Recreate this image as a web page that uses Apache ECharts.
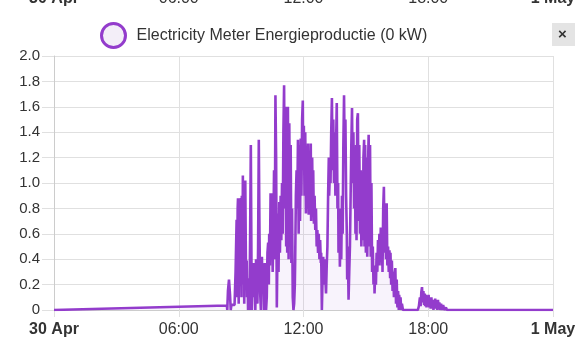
<!DOCTYPE html>
<html>
<head>
<meta charset="utf-8">
<script src="https://cdn.jsdelivr.net/npm/echarts@6/dist/echarts.min.js"></script>
<style>
html,body{margin:0;padding:0;background:#fff;}
#c{width:585px;height:361px;}
</style>
</head>
<body>
<div id="c"></div>
<script>
// Tick labels (every 6 hours, in minutes from 30 Apr 00:00)
const xTickLabels = ['30 Apr', '06:00', '12:00', '18:00', '1 May'];
const xTickBold = [true, false, false, false, true];
const seriesName = 'Electricity Meter Energieproductie (0 kW)';

// Sample times (minutes since 30 Apr 00:00)
const minutes = [
  0,499,500,502,505,508,510,512,517,521,
  524,527,528,530,531,533,534,536,537,539,
  541,542,544,545,546,548,549,551,552,554,
  556,557,559,560,562,564,566,568,570,571,
  573,575,577,579,581,583,585,587,589,591,
  593,595,597,598,600,602,604,606,608,610,
  612,614,616,618,620,621,623,625,627,629,
  631,633,635,637,639,641,643,645,646,648,
  650,652,654,656,658,660,662,664,666,668,
  670,672,673,675,677,679,681,683,685,687,
  689,691,693,695,696,698,700,702,704,706,
  708,710,712,714,716,718,719,721,723,725,
  727,729,731,733,735,737,739,741,742,745,
  747,748,750,752,754,756,758,760,762,764,
  766,768,770,771,773,775,777,779,781,783,
  785,787,789,791,793,794,797,798,800,802,
  804,806,808,810,812,814,816,818,820,821,
  823,825,827,829,831,833,835,837,839,841,
  843,845,846,848,850,852,854,856,858,860,
  862,864,866,868,870,872,873,875,877,879,
  881,883,885,887,889,891,893,895,896,898,
  900,902,904,906,908,910,912,914,916,918,
  920,922,924,925,927,929,931,933,935,937,
  939,941,943,945,947,948,950,952,954,956,
  958,960,962,964,966,968,970,971,973,975,
  977,979,981,983,985,987,989,991,993,995,
  996,999,1000,1002,1004,1007,1050,1053,1056,1058,
  1060,1062,1064,1066,1068,1070,1071,1073,1075,1077,
  1079,1081,1083,1085,1087,1089,1091,1093,1095,1097,
  1098,1100,1102,1104,1106,1108,1110,1112,1114,1117,
  1120,1123,1126,1131,1134,1440
];
// Power (kW)
const kw = [
  0,0.035,0,0.15,0.24,0.12,0,0.04,0.05,0.04,
  0.3,0.71,0.1,0.8,0.88,0.05,0.7,0.2,0.82,0.88,
  0.1,0.9,0.3,1.06,0.2,0.97,0.05,0.85,1.02,0.3,
  0.39,0.1,0.25,0,0.15,0,0.6,1.3,0.3,0,
  0.34,0.1,0.37,0.24,0,0.4,0.26,0.05,0.5,1.34,
  0.6,0.13,0,0.2,0.42,0.13,0.31,0,0.37,0.29,
  0,0.1,0.45,0.53,0.2,0.6,0.35,0.92,0.5,0.92,
  0.3,0.6,1.1,0.4,1.69,1.2,0.02,0.5,0.76,0.3,
  0.85,0.45,0.9,0.55,1.0,0.6,1.4,1.77,0.8,1.6,
  0.5,1.5,0.45,1.6,0.4,1.47,0.6,1.3,0.37,0.8,
  0.1,0,0.05,0.2,0.39,0.9,1.1,0.8,1.34,0.6,
  1.3,0.7,1.35,0.9,1.5,1.65,1.2,1.45,0.9,1.4,
  0.76,1.2,0.8,1.31,0.75,1.25,0.8,1.31,0.7,1.2,
  0.75,1.1,0.68,0.9,0.63,0.8,0.5,0.63,0.45,0.6,
  0.4,0.55,0.37,0.45,0,0.25,0.42,0.2,0.4,0.25,
  0.13,0.35,0.5,0.9,1.2,0.9,1.15,1.0,1.4,1.67,
  1.1,1.5,1.0,1.4,0.9,1.3,1.63,0.8,1.0,0.45,
  0.8,0.34,0.6,0.4,0.9,0.6,1.3,1.69,1.2,1.5,
  0.9,0.6,0.24,0.5,0.08,0.3,0.5,0.9,1.3,1.59,
  1.0,1.4,0.8,1.2,0.6,1.3,0.55,1.5,1.55,0.7,
  1.3,0.6,1.1,0.5,0.9,0.55,1.2,1.34,0.5,1.3,
  0.45,1.2,0.42,1.1,1.38,0.5,1.3,0.42,1.0,0.3,
  0.5,0.2,0.35,0.13,0.3,0.2,0.45,0.3,0.55,0.35,
  0.6,0.4,0.65,0.35,0.6,0.3,0.8,0.97,0.45,0.8,
  0.4,0.84,0.35,0.5,0.3,0.47,0.25,0.45,0.2,0.39,
  0.15,0.3,0.1,0.28,0.33,0.05,0.24,0.02,0.15,0,
  0.12,0.03,0.1,0,0.05,0,0,0.03,0.1,0.03,
  0.14,0.18,0.06,0.15,0.04,0.13,0.03,0.12,0.02,0.1,
  0.03,0.12,0.02,0.09,0.01,0.1,0.03,0.08,0,0.07,
  0.02,0.09,0.01,0.06,0,0.08,0.02,0.06,0,0.05,
  0,0.04,0,0.02,0,0
];

const LINE = '#933ccc';
const FONT = '"Liberation Sans", Arial, Helvetica, sans-serif';
const data = minutes.map((m, i) => [m, kw[i]]);

function xLabel(v) {
  const i = Math.round(v / 360);
  const t = xTickLabels[i];
  if (t === undefined) return '';
  return xTickBold[i] ? '{b|' + t + '}' : t;
}
const xRich = { b: { fontWeight: 'bold', fontSize: 16, fontFamily: FONT, color: '#333' } };

const chart = echarts.init(document.getElementById('c'), null, { renderer: 'canvas' });
chart.setOption({
  animation: false,
  backgroundColor: '#fff',
  textStyle: { fontFamily: FONT },
  legend: {
    data: [seriesName],
    left: 95, top: 17,
    icon: 'circle',
    itemWidth: 24, itemHeight: 24,
    itemStyle: { color: '#f3eef8', borderColor: LINE, borderWidth: 3 },
    textStyle: { fontSize: 16, color: '#333', fontFamily: FONT, padding: [0, 0, 0, 6] },
    selectedMode: false
  },
  grid: [
    { left: 54, right: 32, top: 56, bottom: 51, containLabel: false },
    { left: 54, right: 32, top: -40, height: 10, containLabel: false }
  ],
  xAxis: [
    {
      type: 'value', gridIndex: 0, min: 0, max: 1440, interval: 360,
      axisLine: { show: true, lineStyle: { color: '#ccc' } },
      axisTick: { show: true, length: 7, lineStyle: { color: '#e0e0e0' } },
      splitLine: { show: true, lineStyle: { color: '#e0e0e0' } },
      axisLabel: { formatter: xLabel, rich: xRich, fontSize: 16, color: '#333', fontFamily: FONT, margin: 12, showMinLabel: true, showMaxLabel: true }
    },
    {
      type: 'value', gridIndex: 1, min: 0, max: 1440, interval: 360,
      axisLine: { show: false }, axisTick: { show: false }, splitLine: { show: false },
      axisLabel: { formatter: xLabel, rich: xRich, fontSize: 16, color: '#333', fontFamily: FONT, margin: 18, showMinLabel: true, showMaxLabel: true }
    }
  ],
  yAxis: [
    {
      type: 'value', gridIndex: 0, min: 0, max: 2, interval: 0.2,
      axisLine: { show: true, lineStyle: { color: '#ccc' } },
      axisTick: { show: true, length: 12, lineStyle: { color: '#e0e0e0' } },
      splitLine: { show: true, lineStyle: { color: '#e0e0e0' } },
      axisLabel: {
        formatter: v => (v === 0 ? '0' : v.toFixed(1)),
        fontSize: 15, color: '#333', fontFamily: FONT, margin: 14
      }
    },
    { type: 'value', gridIndex: 1, show: false, min: 0, max: 1 }
  ],
  series: [{
    name: seriesName,
    type: 'line',
    xAxisIndex: 0, yAxisIndex: 0,
    data: data,
    showSymbol: false,
    symbol: 'none',
    sampling: null,
    lineStyle: { color: LINE, width: 2.6 },
    itemStyle: { color: LINE },
    areaStyle: { color: 'rgba(147,60,204,0.09)' }
  }],
  graphic: [
    { type: 'rect', left: 552, top: 23, shape: { width: 23, height: 23 }, style: { fill: '#e4e4e4' } },
    { type: 'text', left: 558, top: 27, style: { text: '×', font: 'bold 15px ' + FONT, fill: '#333' } }
  ]
});
</script>
</body>
</html>
